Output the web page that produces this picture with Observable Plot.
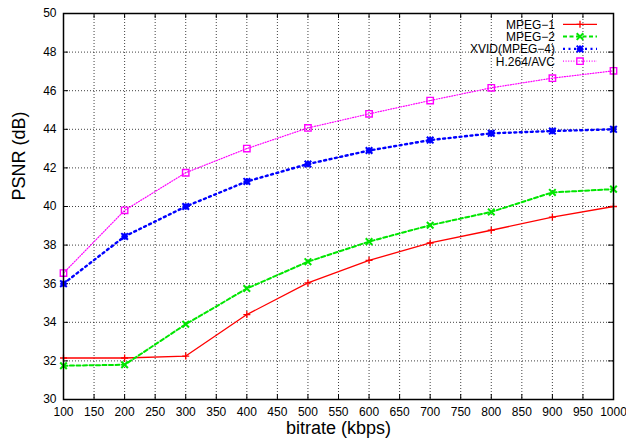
<!DOCTYPE html>
<html><head><meta charset="utf-8">
<script src="https://cdn.jsdelivr.net/npm/d3@7"></script>
<script src="https://cdn.jsdelivr.net/npm/@observablehq/plot@0.6"></script>
<style>body{margin:0;background:#fff;} #chart{width:626px;height:439px;}</style>
</head><body><div id="chart"></div>
<script>
// ---- data ----
const bitrates = [100, 200, 300, 400, 500, 600, 700, 800, 900, 1000];
const seriesNames = ["MPEG\u22121", "MPEG\u22122", "XVID(MPEG\u22124)", "H.264/AVC"];
const mpeg1 = [32.15, 32.15, 32.25, 34.4, 36.04, 37.21, 38.11, 38.77, 39.45, 40.0];
const mpeg2 = [31.75, 31.8, 33.9, 35.75, 37.14, 38.18, 39.03, 39.72, 40.73, 40.9];
const xvid = [36.0, 38.45, 40.0, 41.3, 42.2, 42.9, 43.44, 43.79, 43.91, 44.0];
const h264 = [36.55, 39.8, 41.75, 43.0, 44.07, 44.8, 45.49, 46.15, 46.65, 47.03];
const xTicks = [100,150,200,250,300,350,400,450,500,550,600,650,700,750,800,850,900,950,1000];
const yTicks = [30,32,34,36,38,40,42,44,46,48,50];

// ---- styles ----
const W = 626, H = 439, mL = 63, mR = 13, mT = 13, mB = 40;
const plotH = H - mT - mB, plotW = W - mL - mR;
const FONT = "'Liberation Sans', Arial, Helvetica, sans-serif";

const symPlus = {draw(c, size){const r = Math.sqrt(size/Math.PI); c.moveTo(-r,0); c.lineTo(r,0); c.moveTo(0,-r); c.lineTo(0,r);}};
const symTimes = {draw(c, size){const r = Math.sqrt(size/Math.PI); c.moveTo(-r,-r); c.lineTo(r,r); c.moveTo(-r,r); c.lineTo(r,-r);}};
const symStar = {draw(c, size){const r = Math.sqrt(size/Math.PI); c.moveTo(-r,0); c.lineTo(r,0); c.moveTo(0,-r); c.lineTo(0,r); c.moveTo(-r,-r); c.lineTo(r,r); c.moveTo(-r,r); c.lineTo(r,-r);}};
const symSquare = {draw(c, size){const r = Math.sqrt(size/Math.PI); c.rect(-r,-r,2*r,2*r);}};

const styles = [
  {color:"#ff0000", width:1.3, dash:null, sym:symPlus, r:3.5, sw:1.3},
  {color:"#00e600", width:2, dash:"4,2.5", sym:symTimes, r:3.3, sw:2},
  {color:"#0000ff", width:2.4, dash:"2,3.5", sym:symStar, r:3.3, sw:2},
  {color:"#ff00ff", width:1.2, dash:"1,1.6", sym:symSquare, r:3.2, sw:1.4}
];
const allValues = [mpeg1, mpeg2, xvid, h264];
const rows = seriesNames.map((s, i) => allValues[i].map((v, j) => ({series: s, x: bitrates[j], y: v})));

const seriesMarks = rows.flatMap((d, i) => [
  Plot.line(d, {x: "x", y: "y", stroke: styles[i].color, strokeWidth: styles[i].width, strokeDasharray: styles[i].dash}),
  Plot.dot(d, {x: "x", y: "y", symbol: styles[i].sym, r: styles[i].r, fill: "none", stroke: styles[i].color, strokeWidth: styles[i].sw})
]);

const chart = Plot.plot({
  width: W, height: H,
  marginLeft: mL, marginRight: mR, marginTop: mT, marginBottom: mB,
  style: {fontFamily: FONT, fontSize: "12px", color: "#000", background: "#fff", overflow: "visible"},
  x: {domain: [100, 1000]},
  y: {domain: [30, 50]},
  marks: [
    Plot.gridX(xTicks, {stroke: "#000", strokeOpacity: 0.75, strokeDasharray: "1,2"}),
    Plot.gridY(yTicks, {stroke: "#000", strokeOpacity: 0.75, strokeDasharray: "1,2"}),
    Plot.tickX(xTicks, {x: d => d, insetTop: plotH - 5, stroke: "#000", strokeWidth: 1}),
    Plot.tickX(xTicks, {x: d => d, insetBottom: plotH - 5, stroke: "#000", strokeWidth: 1}),
    Plot.tickY(yTicks, {y: d => d, insetRight: plotW - 5, stroke: "#000", strokeWidth: 1}),
    Plot.tickY(yTicks, {y: d => d, insetLeft: plotW - 5, stroke: "#000", strokeWidth: 1}),
    ...seriesMarks,
    Plot.axisX(xTicks, {tickSize: 0, tickPadding: 8, label: null, fontSize: 12, tickFormat: d => String(d)}),
    Plot.axisY(yTicks, {tickSize: 0, tickPadding: 7, label: null, fontSize: 12, tickFormat: d => String(d)}),
    Plot.frame({stroke: "#000", strokeWidth: 1.5}),
    Plot.text(["bitrate (kbps)"], {frameAnchor: "bottom", lineAnchor: "middle", dy: 29, fontSize: 18, fill: "#000"}),
    Plot.text(["PSNR (dB)"], {frameAnchor: "left", rotate: -90, dx: -44, dy: -6, fontSize: 18, fill: "#000"})
  ]
});

// ---- legend (inside plot, top right, gnuplot style) ----
const svg = d3.select(chart);
const lg = svg.append("g").attr("font-family", FONT).attr("font-size", 12);
const legY = [24.3, 36.6, 48.9, 61.2];
const textX = 555, lineX1 = 563, lineX2 = 597, symX = 580;
seriesNames.forEach((name, i) => {
  const st = styles[i];
  const y = legY[i];
  lg.append("text").attr("x", textX).attr("y", y).attr("dy", "0.36em").attr("text-anchor", "end").attr("fill", "#000").text(name);
  lg.append("line").attr("x1", lineX1).attr("x2", lineX2).attr("y1", y).attr("y2", y)
    .attr("stroke", st.color).attr("stroke-width", st.width).attr("stroke-dasharray", st.dash);
  lg.append("path").attr("transform", `translate(${symX},${y})`)
    .attr("d", d3.symbol(st.sym, Math.PI * st.r * st.r)())
    .attr("fill", "none").attr("stroke", st.color).attr("stroke-width", st.sw);
});

document.getElementById("chart").appendChild(chart);
</script>
</body></html>
